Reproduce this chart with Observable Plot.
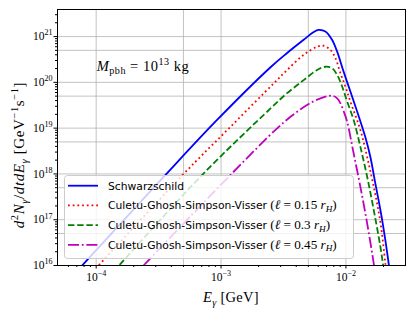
<!DOCTYPE html>
<html><head><meta charset="utf-8">
<script src="https://cdn.jsdelivr.net/npm/d3@7"></script>
<script src="https://cdn.jsdelivr.net/npm/@observablehq/plot@0.6"></script>
<style>
html,body{margin:0;padding:0;background:#fff;}
#chart{width:415px;height:311px;}
</style>
</head><body><div id="chart"></div>
<script>
// ---- data ----
const seriesNames = ["Schwarzschild", "Culetu-Ghosh-Simpson-Visser", "Culetu-Ghosh-Simpson-Visser", "Culetu-Ghosh-Simpson-Visser"];
const seriesEll = [null, "0.15", "0.3", "0.45"];

const E_schw = [6.31e-5, 3.48e-4, 9.29e-4, 2.49e-3, 3.38e-3, 4.59e-3, 5.52e-3, 6.05e-3, 6.85e-3, 7.74e-3, 8.51e-3, 9.59e-3, 1.086e-2, 1.245e-2, 1.432e-2, 1.57e-2, 1.72e-2, 1.89e-2, 2.07e-2, 2.20e-2, 2.29e-2];
const N_schw = [5.5e15, 8.7e17, 1.51e19, 2.14e20, 4.37e20, 8.5e20, 1.26e21, 1.40e21, 1.29e21, 8.5e20, 4.68e20, 1.70e20, 6.3e19, 2.09e19, 6.3e18, 2.34e18, 6.2e17, 1.62e17, 3.55e16, 1.10e16, 5.0e15];

const E_l015 = [8.32e-5, 4.89e-4, 1.19e-3, 2.64e-3, 3.38e-3, 4.59e-3, 5.87e-3, 6.64e-3, 7.52e-3, 8.24e-3, 9.04e-3, 9.91e-3, 1.086e-2, 1.306e-2, 1.479e-2, 1.671e-2, 1.888e-2, 2.07e-2, 2.14e-2];
const N_l015 = [5.1e15, 9.3e17, 1.07e19, 9.5e19, 1.86e20, 3.98e20, 6.0e20, 6.3e20, 5.1e20, 3.39e20, 1.58e20, 8.1e19, 3.8e19, 9.1e18, 2.34e18, 5.2e17, 8.9e16, 1.10e16, 5.0e15];

const E_l030 = [1.23e-4, 6.84e-4, 2.49e-3, 3.38e-3, 4.59e-3, 5.87e-3, 6.85e-3, 7.74e-3, 8.51e-3, 9.33e-3, 1.023e-2, 1.153e-2, 1.306e-2, 1.479e-2, 1.671e-2, 1.888e-2, 1.986e-2, 2.04e-2];
const N_l030 = [5.2e15, 8.7e17, 2.69e19, 5.8e19, 1.12e20, 1.86e20, 2.19e20, 2.04e20, 1.45e20, 8.1e19, 3.8e19, 1.51e19, 3.9e18, 8.7e17, 1.62e17, 2.57e16, 1.0e16, 5.6e15];

const E_l045 = [1.905e-4, 1.153e-3, 2.90e-3, 3.98e-3, 5.37e-3, 6.76e-3, 7.76e-3, 8.51e-3, 9.04e-3, 9.59e-3, 1.023e-2, 1.153e-2, 1.306e-2, 1.479e-2, 1.671e-2, 1.718e-2];
const N_l045 = [5.2e15, 8.7e17, 1.07e19, 2.19e19, 3.72e19, 4.79e19, 5.13e19, 4.47e19, 3.47e19, 2.34e19, 1.38e19, 2.8e18, 5.2e17, 8.3e16, 1.10e16, 6.3e15];

const xMajorTicks = [1e-4, 1e-3, 1e-2];
const xMinorTicks = [6e-5, 7e-5, 8e-5, 9e-5, 2e-4, 3e-4, 4e-4, 5e-4, 6e-4, 7e-4, 8e-4, 9e-4, 2e-3, 3e-3, 4e-3, 5e-3, 6e-3, 7e-3, 8e-3, 9e-3, 2e-2];
const xGrid = [1e-4, 5e-4, 1e-3, 5e-3, 1e-2];
const yMajorTicks = [1e16, 1e17, 1e18, 1e19, 1e20, 1e21];
const yMinorTicks = [];
for (const d of [16, 17, 18, 19, 20, 21]) for (const m of [2, 3, 4, 5, 6, 7, 8, 9]) if (m * 10 ** d <= 3.9e21) yMinorTicks.push(m * 10 ** d);
const yGrid = [5e16, 1e17, 5e17, 1e18, 5e18, 1e19, 5e19, 1e20, 5e20, 1e21];

// ---- styling ----
const colors = ["#0000ff", "#ff0000", "#008000", "#bf00bf"];
const dashes = [null, "1.8,2.9", "6.4,2.8", "11,2.8,1.8,2.8"];
const LW = 1.8;
const serif = "'Liberation Serif', 'DejaVu Serif', serif";
const sans = "'DejaVu Sans', sans-serif";

const seriesData = [[E_schw, N_schw], [E_l015, N_l015], [E_l030, N_l030], [E_l045, N_l045]]
  .map(([E, N]) => E.map((e, i) => ({E: e, N: N[i]})));

const lineMarks = seriesData.map((rows, k) => Plot.line(rows, {
  x: "E", y: "N", stroke: colors[k], strokeWidth: LW,
  strokeDasharray: dashes[k] || undefined, strokeLinecap: "butt",
  curve: "catmull-rom", clip: true
}));

const expFmt = d => "1e" + Math.round(Math.log10(d));

const chart = Plot.plot({
  width: 415, height: 311,
  marginLeft: 57, marginRight: 10, marginTop: 9, marginBottom: 46,
  x: {type: "log", domain: [4.9e-5, 3.0e-2], label: null},
  y: {type: "log", domain: [1e16, 3.9e21], label: null},
  style: {fontFamily: serif, fontSize: "11.5px", background: "white", color: "black"},
  marks: [
    Plot.gridX(xGrid, {stroke: "#b0b0b0", strokeOpacity: 0.85, strokeWidth: 0.9}),
    Plot.gridY(yGrid, {stroke: "#b0b0b0", strokeOpacity: 0.85, strokeWidth: 0.9}),
    ...lineMarks,
    Plot.frame({stroke: "black", strokeWidth: 1}),
    Plot.axisX(xMajorTicks, {tickSize: 3.5, tickPadding: 4, tickFormat: expFmt, label: null, fontSize: 11.5}),
    Plot.axisX(xMinorTicks, {tickSize: 2, tickFormat: () => "", label: null}),
    Plot.axisY(yMajorTicks, {tickSize: 3.5, tickPadding: 1.5, tickFormat: expFmt, label: null, fontSize: 11.5}),
    Plot.axisY(yMinorTicks, {tickSize: 2, tickFormat: () => "", label: null})
  ]
});
document.getElementById("chart").appendChild(chart);

const NS = "http://www.w3.org/2000/svg";
function setRich(el, parts, size) {
  el.textContent = "";
  let cur = 0;
  for (const p of parts) {
    const ts = document.createElementNS(NS, "tspan");
    const shift = p.sup ? -0.42 * size : p.sub ? 0.25 * size : 0;
    if (shift !== cur) { ts.setAttribute("dy", (shift - cur).toFixed(2)); cur = shift; }
    if (p.sup || p.sub) ts.setAttribute("font-size", (0.7 * (p.size || size)).toFixed(2));
    else if (p.size) ts.setAttribute("font-size", p.size);
    if (p.i) ts.setAttribute("font-style", "italic");
    if (p.dx) ts.setAttribute("dx", p.dx);
    if (p.font) ts.setAttribute("font-family", p.font);
    ts.textContent = p.t;
    el.appendChild(ts);
  }
}
function addText(parent, x, y, parts, size, opts = {}) {
  const t = document.createElementNS(NS, "text");
  t.setAttribute("x", x); t.setAttribute("y", y);
  t.setAttribute("font-size", size);
  t.setAttribute("font-family", opts.font || serif);
  t.setAttribute("fill", "black");
  t.setAttribute("text-anchor", opts.anchor || "start");
  if (opts.spacing) t.setAttribute("letter-spacing", opts.spacing);
  if (opts.transform) t.setAttribute("transform", opts.transform);
  setRich(t, parts, size);
  parent.appendChild(t);
  return t;
}

// tick labels 10^n with superscripts
chart.querySelectorAll("text").forEach(t => {
  const m = /^1e(-?\d+)$/.exec(t.textContent.trim());
  if (m) {
    const e = m[1].replace("-", "\u2212");
    setRich(t, [{t: "10"}, {t: e, sup: true}], 11.5);
  }
});

const sx = chart.scale("x"), sy = chart.scale("y");
const fx = sx.apply ? v => sx.apply(v) : d3.scaleLog(sx.domain, sx.range);
const fy = sy.apply ? v => sy.apply(v) : d3.scaleLog(sy.domain, sy.range);

const g = document.createElementNS(NS, "g");
g.setAttribute("text-anchor", "start");
chart.appendChild(g);

// annotation M_pbh = 10^13 kg
addText(g, fx(1e-4) + 1, fy(1.75e20), [
  {t: "M", i: true}, {t: "pbh", sub: true}, {t: " = 10"}, {t: "13", sup: true}, {t: " kg"}
], 14.5, {spacing: 0.5});

// axis labels
const xl = (fx(4.9e-5) + fx(3e-2)) / 2;
addText(g, xl, 302, [{t: "E", i: true}, {t: "\u03b3", sub: true, i: true}, {t: " [GeV]"}], 14.5, {anchor: "middle", spacing: 0.3});
addText(g, 0, 0, [
  {t: "d", i: true}, {t: "2", sup: true}, {t: "N", i: true}, {t: "\u03b3", sub: true, i: true},
  {t: "/"}, {t: "dtdE", i: true}, {t: "\u03b3", sub: true, i: true},
  {t: " [GeV"}, {t: "\u22121", sup: true}, {t: "s"}, {t: "\u22121", sup: true}, {t: "]"}
], 15, {anchor: "middle", spacing: 0.6, transform: `translate(24,155) rotate(-90)`});

// legend
const L = {x: 64, y: 175, w: 289, h: 83};
const rect = document.createElementNS(NS, "rect");
Object.entries({x: L.x + 0.5, y: L.y + 0.5, width: L.w, height: L.h, rx: 3, fill: "white", "fill-opacity": 0.8, stroke: "#cccccc", "stroke-width": 1})
  .forEach(([k, v]) => rect.setAttribute(k, v));
g.appendChild(rect);
const MS = 13.2;
seriesNames.forEach((name, k) => {
  const cy = L.y + 10.7 + k * 19.7;
  const ln = document.createElementNS(NS, "line");
  Object.entries({x1: L.x + 4, x2: L.x + 34, y1: cy, y2: cy, stroke: colors[k], "stroke-width": LW, "stroke-linecap": "butt"})
    .forEach(([a, v]) => ln.setAttribute(a, v));
  if (dashes[k]) ln.setAttribute("stroke-dasharray", dashes[k]);
  g.appendChild(ln);
  const parts = [{t: name, font: sans}];
  if (seriesEll[k]) {
    parts.push({t: " (", font: serif, size: MS}, {t: "\u2113", i: true, font: serif, size: MS}, {t: " = " + seriesEll[k] + " ", font: serif, size: MS},
      {t: "r", i: true, font: serif, size: MS}, {t: "H", sub: true, i: true, font: serif, size: MS}, {t: ")", font: serif, size: MS});
  }
  addText(g, L.x + 44, cy + 4, parts, 10.75, {font: sans});
});
</script>
</body></html>
